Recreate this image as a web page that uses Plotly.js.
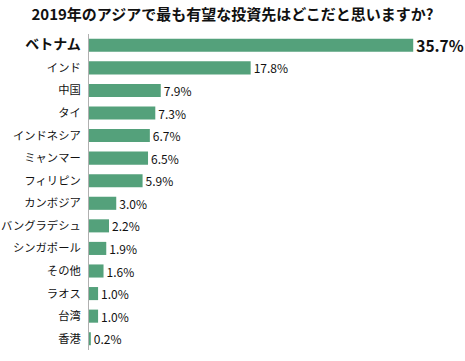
<!DOCTYPE html>
<html><head><meta charset="utf-8">
<script src="https://cdn.plot.ly/plotly-3.0.1.min.js"></script>
<style>html,body{margin:0;padding:0;background:#fff}</style>
</head><body>
<div id="chart" style="width:465px;height:361px"></div>
<script>
const categories = ['ベトナム','インド','中国','タイ','インドネシア','ミャンマー','フィリピン','カンボジア','バングラデシュ','シンガポール','その他','ラオス','台湾','香港'];
const values = [35.7, 17.8, 7.9, 7.3, 6.7, 6.5, 5.9, 3.0, 2.2, 1.9, 1.6, 1.0, 1.0, 0.2];
const tickLabels = categories.map((c, i) => i === 0 ? '<b><span style="font-size:14px">' + c + '</span></b>' : c);
const textLabels = values.map((v, i) => i === 0 ? '<b>' + v.toFixed(1) + '%</b>' : v.toFixed(1) + '%');
const textSizes = values.map((v, i) => i === 0 ? 15.5 : 12);

const font = '"Noto Sans CJK JP", "Noto Sans", sans-serif';
Plotly.newPlot('chart', [{
  type: 'bar',
  orientation: 'h',
  y: categories,
  x: values,
  text: textLabels,
  textposition: 'outside',
  constraintext: 'none',
  textfont: {size: textSizes, color: '#111', family: font},
  cliponaxis: false,
  marker: {color: '#54a17b', line: {width: 0}},
  hoverinfo: 'none'
}], {
  width: 465, height: 361,
  margin: {l: 89, r: 0, t: 34, b: 11},
  bargap: 0.42,
  paper_bgcolor: '#fff', plot_bgcolor: '#fff',
  font: {family: font, color: '#111', size: 12},
  showlegend: false,
  title: {text: '<b>2019年のアジアで最も有望な投資先はどこだと思いますか?</b>', x: 0.5, xanchor: 'center', y: 0.96, yanchor: 'middle', font: {size: 15, color: '#111', family: font}},
  xaxis: {range: [0, 41.4], visible: false, fixedrange: true},
  yaxis: {type: 'category', autorange: 'reversed', tickmode: 'array', tickvals: categories, ticktext: tickLabels,
          showline: true, linecolor: '#b0b0b0', linewidth: 1, ticks: '', showgrid: false, zeroline: false,
          ticklabelstandoff: 5, tickfont: {size: 11.3, color: '#111', family: font}}
}, {displayModeBar: false, staticPlot: true});
</script>
</body></html>
